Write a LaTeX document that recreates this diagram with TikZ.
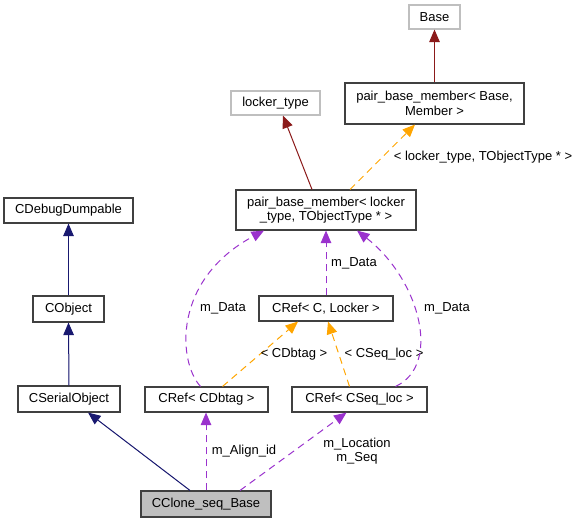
\documentclass[tikz,border=0pt]{standalone}
\usepackage{fontspec}
\setmainfont{Liberation Sans}
\usetikzlibrary{arrows.meta}
\definecolor{dxblue}{HTML}{191970}
\definecolor{dxred}{HTML}{8B1A1A}
\definecolor{dxorange}{HTML}{FFA500}
\definecolor{dxpurple}{HTML}{9A32CD}
\definecolor{dxgray}{HTML}{BFBFBF}
\begin{document}
\begin{tikzpicture}[x=1pt,y=1pt,
  every node/.style={font=\fontsize{13}{14.5}\selectfont},
  box/.style={draw=black!75, line width=1.1pt, inner sep=0pt, align=center},
  graybox/.style={draw=dxgray, line width=1.1pt, inner sep=0pt, align=center},
  tip/.style={-{Triangle[length=12.5pt,width=10.5pt]}},
  inh/.style={tip, draw=dxblue, fill=dxblue, line width=1pt},
  tmpl/.style={tip, draw=dxred, line width=1pt},
  inst/.style={tip, draw=dxorange, line width=1pt, dash pattern=on 7pt off 5pt},
  use/.style={tip, draw=dxpurple, line width=1pt, dash pattern=on 7pt off 5pt},
  lbl/.style={inner sep=0pt, align=center}
]
\useasboundingbox (0,0) rectangle (581,-523);
\node[graybox, minimum width=51pt, minimum height=24pt] (base) at (434.5,-17) {Base};
\node[box, minimum width=179pt, minimum height=41pt] (pbmb) at (434.5,-103.5) {pair\_base\_member< Base,\\Member >};
\node[graybox, minimum width=89pt, minimum height=24pt] (locker) at (275.5,-103) {locker\_type};
\node[box, minimum width=180pt, minimum height=40pt] (pbml) at (326,-210) {pair\_base\_member< locker\\\_type, TObjectType * >};
\node[box, minimum width=129pt, minimum height=25pt] (cdd) at (68.5,-210.5) {CDebugDumpable};
\node[box, minimum width=71pt, minimum height=26pt] (cobj) at (68.5,-309) {CObject};
\node[box, minimum width=134pt, minimum height=25pt] (crefc) at (326,-308.5) {CRef< C, Locker >};
\node[box, minimum width=102pt, minimum height=26pt] (cser) at (69,-399) {CSerialObject};
\node[box, minimum width=123pt, minimum height=25pt] (crefdb) at (206.5,-399.5) {CRef< CDbtag >};
\node[box, minimum width=135pt, minimum height=25pt] (crefseq) at (359.5,-399.5) {CRef< CSeq\_loc >};
\node[box, fill=dxgray, minimum width=130pt, minimum height=26pt] (clone) at (206,-504) {CClone\_seq\_Base};

% inheritance
\draw[inh] (cobj.north) -- (cdd.south);
\draw[inh] (cser.north) -- (cobj.south);
\draw[inh] ([xshift=-16pt]clone.north) -- ([xshift=19pt]cser.south);
% template
\draw[tmpl] (pbmb.north) -- (base.south);
\draw[tmpl] ([xshift=-14pt]pbml.north) -- ([xshift=7.5pt]locker.south);
% instantiation
\draw[inst] ([xshift=24pt]pbml.north) -- ([xshift=-19.5pt]pbmb.south);
\node[lbl] (l1) at (483,-157) {< locker\_type, TObjectType * >};
\draw[inst] ([xshift=16pt]crefdb.north) -- ([xshift=-28pt]crefc.south);
\draw[inst] ([xshift=-10pt]crefseq.north) -- ([xshift=2pt]crefc.south);
\node[lbl] (l2) at (294,-354) {< CDbtag >};
\node[lbl] (l3) at (384,-354) {< CSeq\_loc >};
% usage
\draw[use] (crefc.north) -- (pbml.south);
\node[lbl] (l4) at (354,-263) {m\_Data};
\draw[use] ([xshift=-6pt]crefdb.north) .. controls (178,-362) and (172,-280) .. ([xshift=-62pt]pbml.south);
\node[lbl] (l5) at (223,-308) {m\_Data};
\draw[use] ([xshift=36pt]crefseq.north) .. controls (442,-365) and (420,-280) .. ([xshift=31pt]pbml.south);
\node[lbl] (l6) at (447,-308) {m\_Data};
\draw[use] (clone.north) -- ([xshift=-0.5pt]crefdb.south);
\node[lbl] (l7) at (244,-451) {m\_Align\_id};
\draw[use] ([xshift=34pt]clone.north) -- ([xshift=-13pt]crefseq.south);
\node[lbl] (l8) at (357,-451) {m\_Location\\m\_Seq};
\end{tikzpicture}
\end{document}
